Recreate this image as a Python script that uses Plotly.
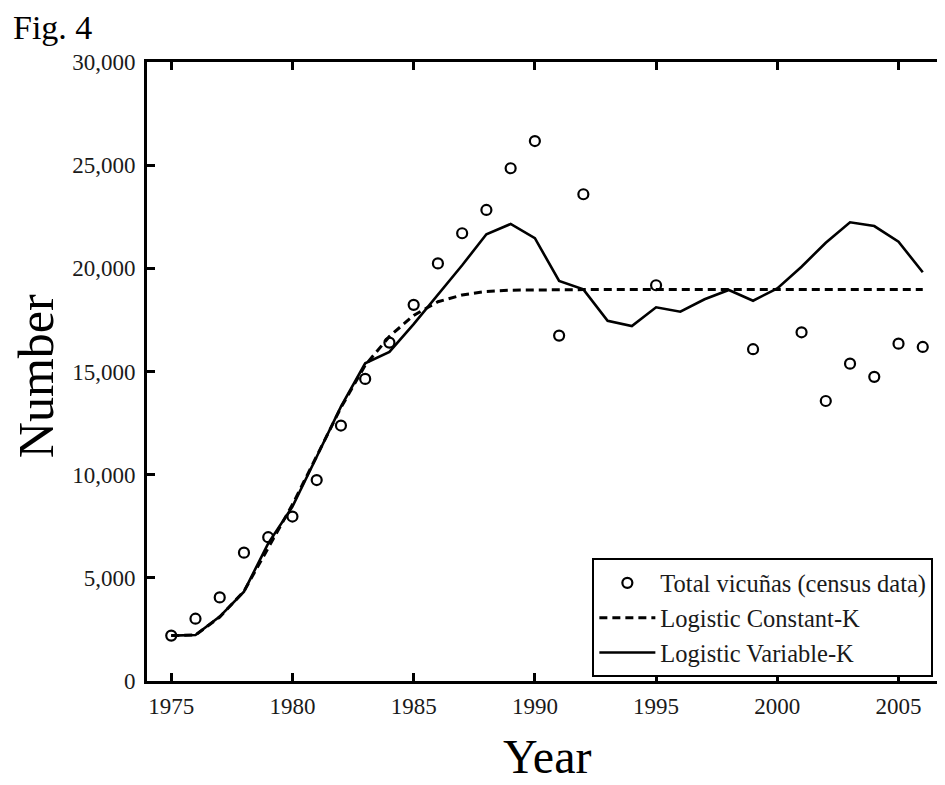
import plotly.graph_objects as go

# ---- data ----
census_years = [1975, 1976, 1977, 1978, 1979, 1980, 1981, 1982, 1983, 1984,
                1985, 1986, 1987, 1988, 1989, 1990, 1991, 1992, 1995, 1999,
                2001, 2002, 2003, 2004, 2005, 2006]
census_values = [2200, 3020, 4050, 6220, 6970, 7970, 9740, 12380, 14640, 16400,
                 18230, 20240, 21700, 22830, 24850, 26170, 16740, 23590, 19180, 16080,
                 16900, 13570, 15380, 14740, 16350, 16190]

model_years = list(range(1975, 2007))
constant_k = [2200, 2230, 3100, 4350, 6450, 8550, 10900, 13250, 15300, 16700,
              17720, 18380, 18710, 18880, 18940, 18960, 18970, 18970, 18970, 18970,
              18970, 18970, 18970, 18970, 18970, 18970, 18970, 18970, 18970, 18970,
              18970, 18970]
variable_k = [2200, 2230, 3120, 4330, 6670, 8450, 10870, 13300, 15400, 15950,
              17300, 18700, 20150, 21650, 22150, 21460, 19390, 18980, 17460, 17200,
              18110, 17900, 18500, 18950, 18430, 19030, 20080, 21240, 22230, 22050,
              21290, 19810]

x_ticks = [1975, 1980, 1985, 1990, 1995, 2000, 2005]
y_ticks = [0, 5000, 10000, 15000, 20000, 25000, 30000]

FONT = "Liberation Serif, Times New Roman, serif"

fig = go.Figure()
fig.add_trace(go.Scatter(
    x=census_years, y=census_values, mode="markers",
    name="Total vicuñas (census data)", legendgroup="a",
    marker=dict(symbol="circle-open", size=10, color="black", line=dict(width=2.2, color="black")),
))
fig.add_trace(go.Scatter(
    x=model_years, y=constant_k, mode="lines",
    name="Logistic Constant-K", legendgroup="b",
    line=dict(color="black", width=3, dash="8px,5px"),
))
fig.add_trace(go.Scatter(
    x=model_years, y=variable_k, mode="lines",
    name="Logistic Variable-K", legendgroup="c",
    line=dict(color="black", width=2.6),
))

axis_common = dict(
    showline=True, linecolor="black", linewidth=3, mirror="ticks",
    ticks="inside", ticklen=8, tickwidth=2.5, tickcolor="black",
    showgrid=False, zeroline=False,
    tickfont=dict(family=FONT, size=23, color="#1a1a1a"),
)

fig.update_xaxes(range=[1974.0, 2007.0], tickvals=x_ticks,
                 ticktext=[str(v) for v in x_ticks], ticklabelstandoff=2, **axis_common)
fig.update_yaxes(range=[0, 30000], tickvals=y_ticks,
                 ticktext=[f"{v:,}" for v in y_ticks], ticklabelstandoff=4, **axis_common)

fig.update_layout(
    width=945, height=777,
    margin=dict(l=139, r=3, t=54, b=103.5),
    paper_bgcolor="white", plot_bgcolor="white",
    font=dict(family=FONT, color="black"),
    showlegend=True,
    legend=dict(
        x=0.5567, y=0.198, xanchor="left", yanchor="top",
        bgcolor="white", bordercolor="black", borderwidth=2,
        font=dict(family=FONT, size=24.5, color="#1a1a1a"),
        tracegroupgap=7, itemwidth=56, traceorder="normal",
    ),
    annotations=[
        dict(text="Fig. 4", xref="paper", yref="paper", x=-0.1706, y=1.0557,
             xanchor="left", yanchor="middle", showarrow=False,
             font=dict(family=FONT, size=34, color="black")),
        dict(text="Year", xref="paper", yref="paper", x=0.5, y=-0.1215,
             xanchor="center", yanchor="middle", showarrow=False,
             font=dict(family=FONT, size=48, color="black")),
        dict(text="Number", xref="paper", yref="paper", x=-0.1395, y=0.493,
             xanchor="center", yanchor="middle", showarrow=False, textangle=-90,
             font=dict(family=FONT, size=50, color="black")),
    ],
)

fig.write_html("out.html")
